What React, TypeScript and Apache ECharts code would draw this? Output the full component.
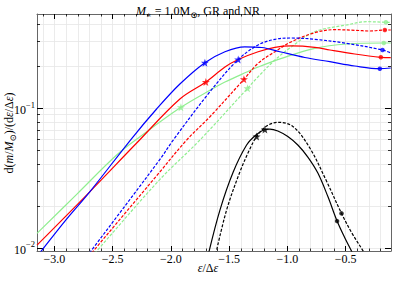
import React, { useEffect, useRef } from "react";
import * as echarts from "echarts";

// ---- data ----
const BLUE_SOLID_X = [-3.13, -3.107, -2.91, -2.695, -2.337, -2.123, -1.923, -1.708, -1.536, -1.365, -1.219, -1.064, -0.85, -0.635, -0.421, -0.206, -0.112];
const BLUE_SOLID_Y = [0.00912, 0.00964, 0.01556, 0.02533, 0.06074, 0.0989, 0.1493, 0.2123, 0.2544, 0.276, 0.2728, 0.2544, 0.2313, 0.2158, 0.201, 0.1922, 0.1945];
const RED_SOLID_X = [-3.15, -2.695, -2.294, -1.923, -1.7, -1.536, -1.422, -1.251, -1.107, -0.964, -0.764, -0.635, -0.421, -0.197, -0.112];
const RED_SOLID_Y = [0.01047, 0.02533, 0.0564, 0.1166, 0.1543, 0.1977, 0.2238, 0.2544, 0.2737, 0.2797, 0.2737, 0.2618, 0.245, 0.232, 0.2305];
const GREEN_SOLID_X = [-3.15, -2.807, -2.466, -2.266, -1.914, -1.639, -1.536, -1.348, -1.251, -1.05, -0.764, -0.489, -0.172, -0.112];
const GREEN_SOLID_Y = [0.0127, 0.0243, 0.04626, 0.06257, 0.1017, 0.1386, 0.1543, 0.1821, 0.1977, 0.2282, 0.2692, 0.2889, 0.2938, 0.2938];
const BLUE_DASH_X = [-2.7, -2.681, -2.094, -1.98, -1.665, -1.422, -1.251, -1.107, -0.964, -0.764, -0.492, -0.183, -0.112];
const BLUE_DASH_Y = [0.0092, 0.00964, 0.0431, 0.05926, 0.1315, 0.2238, 0.2843, 0.3123, 0.319, 0.3123, 0.2923, 0.2618, 0.2491];
const RED_DASH_X = [-2.68, -2.667, -2.094, -1.865, -1.665, -1.373, -1.251, -1.107, -0.964, -0.764, -0.592, -0.421, -0.292, -0.163, -0.112];
const RED_DASH_Y = [0.0092, 0.00948, 0.03511, 0.05926, 0.08706, 0.1614, 0.2102, 0.2544, 0.3002, 0.3482, 0.366, 0.3623, 0.3581, 0.3641, 0.3641];
const GREEN_DASH_X = [-2.655, -2.638, -2.094, -1.751, -1.342, -1.251, -1.107, -0.964, -0.764, -0.492, -0.32, -0.154, -0.112];
const GREEN_DASH_Y = [0.00914, 0.00948, 0.03097, 0.05926, 0.1391, 0.1684, 0.2219, 0.2764, 0.354, 0.3955, 0.4176, 0.4135, 0.4122];
const BLACK_SOLID_X = [-1.678, -1.579, -1.465, -1.35, -1.27, -1.193, -1.15, -1.082, -0.996, -0.91, -0.824, -0.738, -0.652, -0.573, -0.506, -0.449, -0.438];
const BLACK_SOLID_Y = [0.00903, 0.01866, 0.03494, 0.05456, 0.06436, 0.07047, 0.07106, 0.06876, 0.06278, 0.05456, 0.04476, 0.03437, 0.02332, 0.01556, 0.01176, 0.00948, 0.00903];
const BLACK_DASH_X = [-1.615, -1.522, -1.408, -1.322, -1.264, -1.179, -1.079, -0.95, -0.807, -0.664, -0.535, -0.446, -0.349, -0.339];
const BLACK_DASH_Y = [0.00903, 0.01866, 0.03494, 0.05108, 0.06278, 0.07465, 0.07935, 0.0738, 0.05193, 0.03012, 0.01767, 0.01277, 0.00948, 0.00903];

// markers: [x, y]
const STARS_BLUE = [[-1.708, 0.2123], [-1.422, 0.2238]];
const STARS_RED = [[-1.7, 0.1543], [-1.373, 0.1614]];
const STARS_GREEN = [[-1.914, 0.1017], [-1.342, 0.1391]];
const STARS_BLACK = [[-1.193, 0.07047], [-1.264, 0.06278]];
const DOTS_BLUE = [[-0.206, 0.1922], [-0.183, 0.2618]];
const DOTS_RED = [[-0.197, 0.232], [-0.163, 0.3641]];
const DOTS_GREEN = [[-0.172, 0.2938], [-0.154, 0.4135]];
const DOTS_BLACK = [[-0.573, 0.01556], [-0.535, 0.01767]];

// axes
const X_MIN = -3.15;
const X_MAX = -0.11;
const Y_MIN = 0.0095;
const Y_MAX = 0.474;
const X_MAJOR = [-3.0, -2.5, -2.0, -1.5, -1.0, -0.5];
const X_MINOR = [-3.1, -2.9, -2.8, -2.7, -2.6, -2.4, -2.3, -2.2, -2.1, -1.9, -1.8, -1.7, -1.6, -1.4, -1.3, -1.2, -1.1, -0.9, -0.8, -0.7, -0.6, -0.4, -0.3, -0.2];
const Y_MAJOR = [0.01, 0.1];
const Y_MINOR = [0.02, 0.03, 0.04, 0.05, 0.06, 0.07, 0.08, 0.09, 0.2, 0.3, 0.4];

const FONT = "'Liberation Serif', 'DejaVu Serif', serif";
const STAR = "path://M0,-10 L2.35,-3.24 L9.51,-3.09 L3.8,1.24 L5.88,8.09 L0,4 L-5.88,8.09 L-3.8,1.24 L-9.51,-3.09 L-2.35,-3.24 Z";

const zip = (xs: number[], ys: number[]) => xs.map((x, i) => [x, ys[i]]);

export default function App() {
  const ref = useRef<HTMLDivElement>(null);
  useEffect(() => {
    if (!ref.current) return;
    const chart = echarts.init(ref.current, undefined, { renderer: "svg" });
    const g = { left: 37, right: 3, top: 14, bottom: 30, containLabel: false, outerBoundsMode: "none" };
    const axCommon = { min: X_MIN, max: X_MAX, type: "value" as const };
    const yCommon = { min: Y_MIN, max: Y_MAX, type: "log" as const, logBase: 10 };
    const line = (data: number[][], color: string, dashed: boolean, z = 3) => ({
      type: "line",
      data,
      xAxisIndex: 0,
      yAxisIndex: 0,
      symbol: "none",
      smooth: 0.35,
      z,
      lineStyle: { color, width: 1.2, type: dashed ? [3, 1.6] : "solid" },
    });
    const marks = (data: number[][], color: string, star: boolean) => ({
      type: "scatter",
      data,
      xAxisIndex: 0,
      yAxisIndex: 0,
      symbol: star ? STAR : "circle",
      symbolSize: star ? 8 : 4.5,
      itemStyle: { color },
      z: 5,
    });
    const BLUE = "#0000ff", RED = "#ff0000", GREEN = "#90ee90", BLACK = "#000000";
    const txt = (extra: object = {}) => ({ fontFamily: FONT, fontWeight: "normal", fontSize: 12, color: "#000", ...extra });
    chart.setOption({
      animation: false,
      backgroundColor: "#ffffff",
      title: {
        text: "{i|M}{sub|∗}{n| = 1.0M}{sub|⊙}{n|, GR and NR}",
        left: 131,
        top: 0,
        textStyle: {
          fontWeight: "normal",
          rich: {
            i: txt({ fontStyle: "italic", lineHeight: 14, verticalAlign: "top" }),
            n: txt({ lineHeight: 14, verticalAlign: "top" }),
            sub: txt({ fontSize: 8.5, lineHeight: 14, verticalAlign: "bottom" }),
          },
        },
      },
      graphic: [
        {
          type: "text",
          x: 10,
          y: 133,
          rotation: Math.PI / 2,
          style: {
            text: "{n|d(}{i|m}{n|/}{i|M}{s|⊙}{n|)/(d}{i|ε}{n|/Δ}{i|ε}{n|)}",
            align: "center",
            verticalAlign: "middle",
            rich: {
              i: txt({ fontStyle: "italic", lineHeight: 14, verticalAlign: "top" }),
              n: txt({ lineHeight: 14, verticalAlign: "top" }),
              s: txt({ fontSize: 8.5, lineHeight: 14, verticalAlign: "bottom" }),
            },
          },
        },
        {
          type: "text",
          x: 208,
          y: 268,
          style: {
            text: "{i|ε}{n|/Δ}{i|ε}",
            align: "center",
            verticalAlign: "middle",
            rich: {
              i: txt({ fontStyle: "italic", lineHeight: 13 }),
              n: txt({ lineHeight: 13 }),
            },
          },
        },
      ],
      grid: [g, g, g],
      xAxis: [
        {
          ...axCommon, gridIndex: 0, position: "bottom",
          axisLine: { show: true, lineStyle: { color: "#666", width: 1 } },
          axisTick: { show: true, inside: true, length: 5, customValues: X_MAJOR, lineStyle: { color: "#000", width: 1 } },
          axisLabel: {
            show: true, customValues: X_MAJOR, margin: 2, fontFamily: FONT, fontSize: 12, color: "#000",
            formatter: (v: number) => (v < 0 ? "\u2212" : "") + Math.abs(v).toFixed(1),
          },
          splitLine: { show: false },
        },
        {
          ...axCommon, gridIndex: 0, position: "top",
          axisLine: { show: true, lineStyle: { color: "#666", width: 1 } },
          axisTick: { show: true, inside: true, length: 5, customValues: X_MAJOR, lineStyle: { color: "#000", width: 1 } },
          axisLabel: { show: false },
          splitLine: { show: false },
        },
        {
          ...axCommon, gridIndex: 1, position: "bottom",
          axisLine: { show: false },
          axisTick: { show: true, inside: true, length: 2.5, customValues: X_MINOR, lineStyle: { color: "#000", width: 0.8 } },
          axisLabel: { show: false },
          splitLine: { show: false },
        },
        {
          ...axCommon, gridIndex: 1, position: "top",
          axisLine: { show: false },
          axisTick: { show: true, inside: true, length: 2.5, customValues: X_MINOR, lineStyle: { color: "#000", width: 0.8 } },
          axisLabel: { show: false },
          splitLine: { show: false },
        },
        {
          ...axCommon, gridIndex: 2, position: "bottom", z: 0,
          axisLine: { show: false },
          axisTick: { show: false, customValues: [...X_MAJOR, ...X_MINOR] },
          axisLabel: { show: false },
          splitLine: { show: true, lineStyle: { color: "#e6e6e6", width: 0.8 } },
        },
      ],
      yAxis: [
        {
          ...yCommon, gridIndex: 0, position: "left",
          axisLine: { show: true, lineStyle: { color: "#666", width: 1 } },
          axisTick: { show: true, inside: true, length: 6, customValues: Y_MAJOR, lineStyle: { color: "#000", width: 1 } },
          axisLabel: {
            show: true, customValues: Y_MAJOR, margin: 2,
            formatter: (v: number) => "{b|10}{s|\u2212" + Math.round(-Math.log10(v)) + "}",
            rich: {
              b: txt({ lineHeight: 16, verticalAlign: "bottom" }),
              s: txt({ fontSize: 8.5, lineHeight: 16, verticalAlign: "top" }),
            },
          },
          splitLine: { show: false },
        },
        {
          ...yCommon, gridIndex: 0, position: "right",
          axisLine: { show: true, lineStyle: { color: "#666", width: 1 } },
          axisTick: { show: true, inside: true, length: 6, customValues: Y_MAJOR, lineStyle: { color: "#000", width: 1 } },
          axisLabel: { show: false },
          splitLine: { show: false },
        },
        {
          ...yCommon, gridIndex: 1, position: "left",
          axisLine: { show: false },
          axisTick: { show: true, inside: true, length: 3, customValues: Y_MINOR, lineStyle: { color: "#000", width: 0.8 } },
          axisLabel: { show: false },
          splitLine: { show: false },
        },
        {
          ...yCommon, gridIndex: 1, position: "right",
          axisLine: { show: false },
          axisTick: { show: true, inside: true, length: 3, customValues: Y_MINOR, lineStyle: { color: "#000", width: 0.8 } },
          axisLabel: { show: false },
          splitLine: { show: false },
        },
        {
          ...yCommon, gridIndex: 2, position: "left", z: 0,
          axisLine: { show: false },
          axisTick: { show: false, customValues: [...Y_MAJOR, ...Y_MINOR] },
          axisLabel: { show: false },
          splitLine: { show: true, lineStyle: { color: "#e6e6e6", width: 0.8 } },
        },
      ],
      series: [
        line(zip(GREEN_SOLID_X, GREEN_SOLID_Y), GREEN, false),
        line(zip(GREEN_DASH_X, GREEN_DASH_Y), GREEN, true),
        line(zip(RED_SOLID_X, RED_SOLID_Y), RED, false),
        line(zip(RED_DASH_X, RED_DASH_Y), RED, true),
        line(zip(BLUE_SOLID_X, BLUE_SOLID_Y), BLUE, false),
        line(zip(BLUE_DASH_X, BLUE_DASH_Y), BLUE, true),
        line(zip(BLACK_SOLID_X, BLACK_SOLID_Y), BLACK, false),
        line(zip(BLACK_DASH_X, BLACK_DASH_Y), BLACK, true),
        marks(STARS_GREEN, GREEN, true),
        marks(STARS_RED, RED, true),
        marks(STARS_BLUE, BLUE, true),
        marks(STARS_BLACK, BLACK, true),
        marks(DOTS_GREEN, GREEN, false),
        marks(DOTS_RED, RED, false),
        marks(DOTS_BLUE, BLUE, false),
        marks(DOTS_BLACK, BLACK, false),
      ],
    });
    return () => chart.dispose();
  }, []);
  return <div ref={ref} style={{ position: "fixed", left: 0, top: 0, width: 394, height: 281 }} />;
}
